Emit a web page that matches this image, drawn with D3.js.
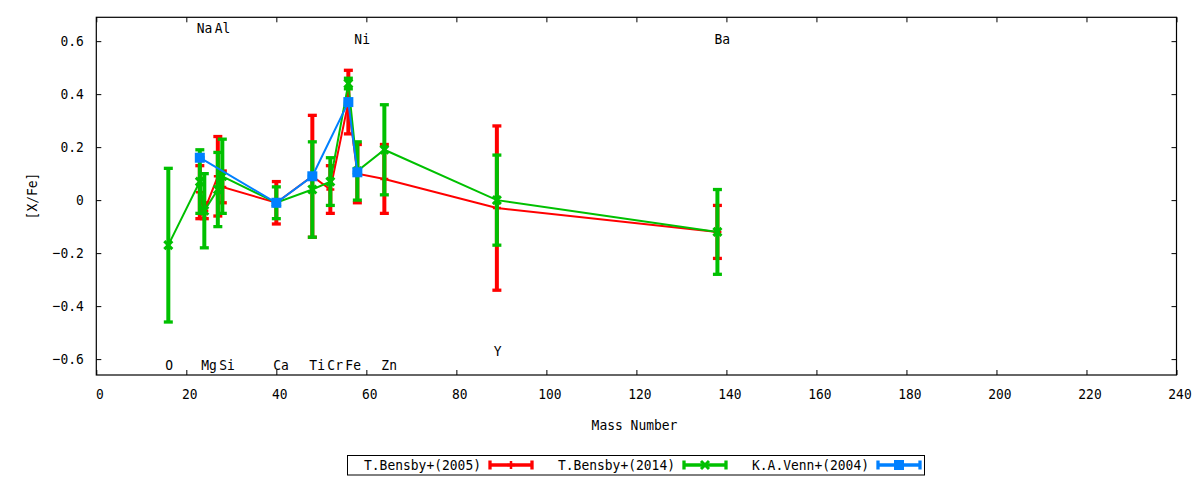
<!DOCTYPE html>
<html>
<head>
<meta charset="utf-8">
<script src="https://cdn.jsdelivr.net/npm/d3@7/dist/d3.min.js"></script>
<style>
  html, body { margin: 0; padding: 0; background: #fff; }
  svg { display: block; }
  text { font-family: "DejaVu Sans Mono", monospace; font-size: 14.5px; fill: #000; }
</style>
</head>
<body>
<svg id="chart" width="1200" height="480"></svg>
<script>
// ---------- data ----------
const elements    = ["O", "Na", "Mg", "Al", "Si", "Ca", "Ti", "Cr", "Fe", "Ni", "Zn", "Y", "Ba"];
const labelMass   = [16, 23, 24, 27, 28, 40, 48, 52, 56, 58, 64, 89, 138];
const labelValue  = [-0.62, 0.65, -0.62, 0.65, -0.62, -0.62, -0.62, -0.62, -0.62, 0.61, -0.62, -0.57, 0.61];

const bensby2005Mass = [23, 24, 27, 28, 40, 48, 52, 56, 58, 64, 89, 138];
const bensby2005Val  = [0.03, -0.04, 0.09, 0.05, -0.01, 0.09, 0.04, 0.37, 0.10, 0.08, -0.03, -0.12];
const bensby2005Err  = [0.10, 0.03, 0.15, 0.06, 0.08, 0.23, 0.09, 0.12, 0.11, 0.13, 0.31, 0.10];

const bensby2014Mass = [16, 23, 24, 27, 28, 40, 48, 52, 56, 58, 64, 89, 138];
const bensby2014Val  = [-0.17, 0.07, -0.04, 0.04, 0.09, -0.01, 0.04, 0.07, 0.44, 0.11, 0.19, 0.00, -0.12];
const bensby2014Err  = [0.29, 0.12, 0.14, 0.14, 0.14, 0.06, 0.18, 0.09, 0.02, 0.11, 0.17, 0.17, 0.16];

const venn2004Mass = [23, 40, 48, 56, 58];
const venn2004Val  = [0.16, -0.01, 0.09, 0.37, 0.105];
const venn2004Err  = [0, 0, 0, 0, 0];

const seriesNames = ["T.Bensby+(2005)", "T.Bensby+(2014)", "K.A.Venn+(2004)"];
const xTickValues = [0, 20, 40, 60, 80, 100, 120, 140, 160, 180, 200, 220, 240];
const yTickValues = [-0.6, -0.4, -0.2, 0, 0.2, 0.4, 0.6];
const xTitle = "Mass Number";
const yTitle = "[X/Fe]";

// ---------- layout ----------
const L = 96.3, R = 1176.5, T = 17.3, B = 375;
const CHAR_W = 7.8;
const svg = d3.select("#chart");

const x = d3.scaleLinear().domain([0, 240]).range([L, R]);
const y = d3.scaleLinear().domain([-0.66, 0.69]).range([B, T]);

function squeeze(sel) {
  sel.each(function () {
    const t = d3.select(this).text();
    if (t.length) d3.select(this).attr("textLength", t.length * CHAR_W).attr("lengthAdjust", "spacingAndGlyphs");
  });
}

// ---------- axes ----------
const fmtY = v => (v === 0 ? "0" : d3.format(".1f")(v));
const axB = svg.append("g").attr("transform", `translate(0,${B})`)
  .call(d3.axisBottom(x).tickValues(xTickValues).tickSizeInner(-5).tickSizeOuter(0).tickPadding(14).tickFormat(d3.format("d")));
const axT = svg.append("g").attr("transform", `translate(0,${T})`)
  .call(d3.axisTop(x).tickValues(xTickValues).tickSizeInner(-5).tickSizeOuter(0).tickFormat(""));
const axLft = svg.append("g").attr("transform", `translate(${L},0)`)
  .call(d3.axisLeft(y).tickValues(yTickValues).tickSizeInner(-5).tickSizeOuter(0).tickPadding(12.5).tickFormat(fmtY));
const axRt = svg.append("g").attr("transform", `translate(${R},0)`)
  .call(d3.axisRight(y).tickValues(yTickValues).tickSizeInner(-5).tickSizeOuter(0).tickFormat(""));
[axB, axT, axLft, axRt].forEach(g => {
  g.select(".domain").remove();
  g.selectAll("line").attr("stroke", "#000").attr("stroke-width", 1);
  g.selectAll("text").attr("font-family", null).attr("font-size", null).call(squeeze);
});
axB.selectAll("text").attr("dx", 3);

svg.append("rect").attr("x", L).attr("y", T).attr("width", R - L).attr("height", B - T)
  .attr("fill", "none").attr("stroke", "#000").attr("stroke-width", 1.2);

svg.append("text").attr("x", 634.5).attr("y", 430).attr("text-anchor", "middle").text(xTitle).call(squeeze);
svg.append("text").attr("transform", `translate(37,196) rotate(-90)`).attr("text-anchor", "middle").text(yTitle).call(squeeze);

// ---------- element labels ----------
svg.append("g").selectAll("text").data(elements).join("text")
  .attr("x", (d, i) => x(labelMass[i]) - 3)
  .attr("y", (d, i) => y(labelValue[i]))
  .attr("dy", "0.36em")
  .attr("text-anchor", "start")
  .text(d => d)
  .call(squeeze);

// ---------- series ----------
const series = [
  { name: seriesNames[0], color: "#ff0000", marker: "plus",   mass: bensby2005Mass, val: bensby2005Val, err: bensby2005Err },
  { name: seriesNames[1], color: "#00c000", marker: "cross",  mass: bensby2014Mass, val: bensby2014Val, err: bensby2014Err },
  { name: seriesNames[2], color: "#0080ff", marker: "square", mass: venn2004Mass,   val: venn2004Val,   err: venn2004Err }
];

function drawMarker(g, type, cx, cy, color) {
  if (type === "plus") {
    g.append("path").attr("d", `M${cx - 4},${cy}H${cx + 4}M${cx},${cy - 4}V${cy + 4}`)
      .attr("stroke", color).attr("stroke-width", 2.5).attr("fill", "none");
  } else if (type === "cross") {
    g.append("path").attr("d", `M${cx - 4},${cy - 4}L${cx + 4},${cy + 4}M${cx - 4},${cy + 4}L${cx + 4},${cy - 4}`)
      .attr("stroke", color).attr("stroke-width", 3).attr("fill", "none");
  } else {
    g.append("rect").attr("x", cx - 5).attr("y", cy - 5).attr("width", 10).attr("height", 10).attr("fill", color);
  }
}

series.forEach(s => {
  const g = svg.append("g");
  const pts = s.mass.map((m, i) => ({ m, v: s.val[i], e: s.err[i] }));
  g.append("path").datum(pts)
    .attr("d", d3.line().x(d => x(d.m)).y(d => y(d.v)))
    .attr("fill", "none").attr("stroke", s.color).attr("stroke-width", 2);
  pts.forEach(p => {
    const cx = x(p.m);
    g.append("line").attr("x1", cx).attr("x2", cx).attr("y1", y(p.v + p.e)).attr("y2", y(p.v - p.e))
      .attr("stroke", s.color).attr("stroke-width", 4);
    [p.v + p.e, p.v - p.e].forEach(v => {
      g.append("line").attr("x1", cx - 4.5).attr("x2", cx + 4.5).attr("y1", y(v)).attr("y2", y(v))
        .attr("stroke", s.color).attr("stroke-width", 3.3);
    });
    drawMarker(g, s.marker, cx, y(p.v), s.color);
  });
});

// ---------- legend ----------
const legY = 465;
const legBox = { x: 347.5, y: 455.5, w: 577, h: 19.5 };
svg.append("rect").attr("x", legBox.x).attr("y", legBox.y).attr("width", legBox.w).attr("height", legBox.h)
  .attr("fill", "#fff").attr("stroke", "#000").attr("stroke-width", 1);
const legTextEnd = [481, 675, 869];
series.forEach((s, i) => {
  const g = svg.append("g");
  g.append("text").attr("x", legTextEnd[i]).attr("y", legY).attr("dy", "0.36em")
    .attr("text-anchor", "end").text(s.name).call(squeeze);
  const x0 = legTextEnd[i] + 9, x1 = x0 + 42, mid = (x0 + x1) / 2;
  g.append("line").attr("x1", x0).attr("x2", x1).attr("y1", legY).attr("y2", legY)
    .attr("stroke", s.color).attr("stroke-width", 3.5);
  [x0, x1].forEach(xx => g.append("line").attr("x1", xx).attr("x2", xx).attr("y1", legY - 4.5).attr("y2", legY + 4.5)
    .attr("stroke", s.color).attr("stroke-width", 3.3));
  drawMarker(g, s.marker, mid, legY, s.color);
});
</script>
</body>
</html>
